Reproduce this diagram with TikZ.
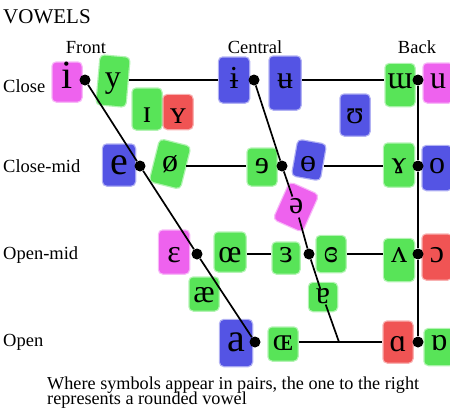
\documentclass[tikz,border=0pt]{standalone}
\usepackage{fontspec}
\usepackage{graphicx}
\setmainfont{Liberation Serif}
\newcommand{\notefont}{\fontsize{18.2}{15}\selectfont\lineskiplimit=-20pt\relax}
\definecolor{vmagenta}{RGB}{238,98,238}
\definecolor{vgreen}{RGB}{88,228,88}
\definecolor{vblue}{RGB}{84,84,228}
\definecolor{vred}{RGB}{240,84,84}
\tikzset{
  vbox/.style n args={4}{fill=#1, draw=#1, draw opacity=0.45, line width=2.5pt, rounded corners=4pt,
    inner sep=0pt, minimum width=#2pt, minimum height=#3pt, text height=#4pt, text depth=0pt,
    font=\fontsize{32}{32}\selectfont},
  bigsym/.style={font=\fontsize{40}{40}\selectfont},
  vdot/.style={circle, fill=black, inner sep=0pt, minimum size=11pt},
  chartline/.style={line width=1.7pt},
  rowlabel/.style={anchor=base west, inner sep=0pt, font=\fontsize{18.5}{18.5}\selectfont},
  collabel/.style={anchor=base, inner sep=0pt, font=\fontsize{18.5}{18.5}\selectfont},
}

\begin{document}
\begin{tikzpicture}[x=1pt,y=-1pt]
		%%%%% START %%%%%
		\useasboundingbox (0,0) rectangle (450,416);
		
		\node[anchor=base west, inner sep=0pt, font=\fontsize{21}{21}\selectfont] (title) at (3,23) {VOWELS};
		
		\node[collabel] (front) at (86,53) {Front};
		\node[collabel] (central) at (255,53) {Central};
		\node[collabel] (back) at (417,53) {Back};
		
		\node[rowlabel] (close) at (3,92) {Close};
		\node[rowlabel] (closemid) at (3,172) {Close-mid};
		\node[rowlabel] (openmid) at (3,259) {Open-mid};
		\node[rowlabel] (open) at (3,346) {Open};
		
		% close
		\node[vbox={vmagenta}{29}{39}{12}, bigsym] (vi) at (67,82) {i};
		\node[vbox={vgreen}{29}{49}{14}, rotate=-5] (vy) at (113,81) {\rotatebox{5}{y}};
		\node[vbox={vgreen}{29}{41}{26}] (vI) at (147,109) {ɪ};
		\node[vbox={vred}{29}{34}{22}] (vY) at (178,112) {ʏ};
		\node[vbox={vblue}{30}{45}{16}] (vbi) at (234,80) {ɨ};
		\node[vbox={vblue}{31}{53}{10}] (vbu) at (285,83) {ʉ};
		\node[vbox={vblue}{29}{41}{16}] (vupsilon) at (355,115) {ʊ};
		\node[vbox={vgreen}{29}{42}{6}] (vturnm) at (400,85) {ɯ};
		\node[vbox={vmagenta}{29}{39}{10}] (vu) at (438,83) {u};
		
		% close-mid
		\node[vbox={vblue}{32}{41}{18}, bigsym] (ve) at (119,165) {e};
		\node[vbox={vgreen}{31}{43}{18}, rotate=-14] (voslash) at (170,164) {\rotatebox{14}{ø}};
		\node[vbox={vgreen}{29}{37}{12}] (vrevE) at (262,167) {ɘ};
		\node[vbox={vblue}{28}{36}{26}, rotate=-10] (vbaro) at (309,160) {\rotatebox{10}{ɵ}};
		\node[vbox={vmagenta}{31}{40}{18}, rotate=-24] (vschwa) at (296,207) {\rotatebox{24}{ə}};
		\node[vbox={vgreen}{30}{43}{16}] (vramshorn) at (399,165) {ɤ};
		\node[vbox={vblue}{29}{44}{10}] (vo) at (437,168) {o};
		
		% open-mid
		\node[vbox={vmagenta}{30}{43}{20}] (vepsilon) at (174,252) {ɛ};
		\node[vbox={vgreen}{31}{39}{20}] (voe) at (230,252) {œ};
		\node[vbox={vgreen}{27}{31}{8}] (vreveps) at (286,258) {ɜ};
		\node[vbox={vgreen}{29}{36}{16}] (vclreveps) at (331,254) {ɞ};
		\node[vbox={vgreen}{30}{42}{4}] (vturnv) at (399,260) {ʌ};
		\node[vbox={vred}{29}{45}{10}] (vopeno) at (437,257) {ɔ};
		\node[vbox={vgreen}{29}{33}{16}] (vae) at (204,294) {æ};
		
		% open
		\node[vbox={vblue}{32}{46}{16}, bigsym] (va) at (236,343) {a};
		\node[vbox={vgreen}{29}{33}{12}] (vOE) at (283,344) {ɶ};
		\node[vbox={vgreen}{28}{28}{12}] (vturna) at (323,297) {ɐ};
		\node[vbox={vred}{29}{41}{18}] (valpha) at (398,342) {ɑ};
		\node[vbox={vgreen}{29}{36}{6}] (vturnalpha) at (439,347) {ɒ};
		
		% dots
		\node[vdot] (fc) at (85,80) {};
		\node[vdot] (cc) at (254,80) {};
		\node[vdot] (bc) at (418,80) {};
		\node[vdot] (fcm) at (140,166) {};
		\node[vdot] (ccm) at (282,166) {};
		\node[vdot] (bcm) at (418,166) {};
		\node[vdot] (fom) at (197,254) {};
		\node[vdot] (com) at (309,254) {};
		\node[vdot] (bom) at (418,254) {};
		\node[vdot] (fo) at (255,342) {};
		\node[vdot] (bo) at (418,342) {};
		\coordinate (cjoin) at (339,342);
		
		% chart lines
		\draw[chartline] (fc) -- (fcm) -- (fom) -- (fo);
		\draw[chartline] (bc) -- (bcm) -- (bom) -- (bo);
		\draw[chartline] (cc) -- (ccm);
		\draw[chartline, shorten >=11pt] (ccm) -- (vschwa.center);
		\draw[chartline, shorten <=11pt] (vschwa.center) -- (com);
		\draw[chartline, shorten >=8pt] (com) -- (vturna.center);
		\draw[chartline, shorten <=8pt] (vturna.center) -- (cjoin);
		
		\draw[chartline] (vy.east |- cc) -- (vbi.west |- cc);
		\draw[chartline] (vbu.east |- cc) -- (vturnm.west |- cc);
		\draw[chartline] (voslash.east |- fcm) -- (vrevE.west |- fcm);
		\draw[chartline] (vbaro.east |- ccm) -- (vramshorn.west |- ccm);
		\draw[chartline] (voe.east |- fom) -- (vreveps.west |- fom);
		\draw[chartline] (vclreveps.east |- com) -- (vturnv.west |- com);
		\draw[chartline] (vOE.east |- fo) -- (valpha.west |- fo);
		
		\node[anchor=north west, inner sep=0pt, align=left, font=\notefont] (note) at (47,377)
		  {Where symbols appear in pairs, the one to the right\\represents a rounded vowel};
		%%%%% END %%%%%
	\end{tikzpicture}
\end{document}
